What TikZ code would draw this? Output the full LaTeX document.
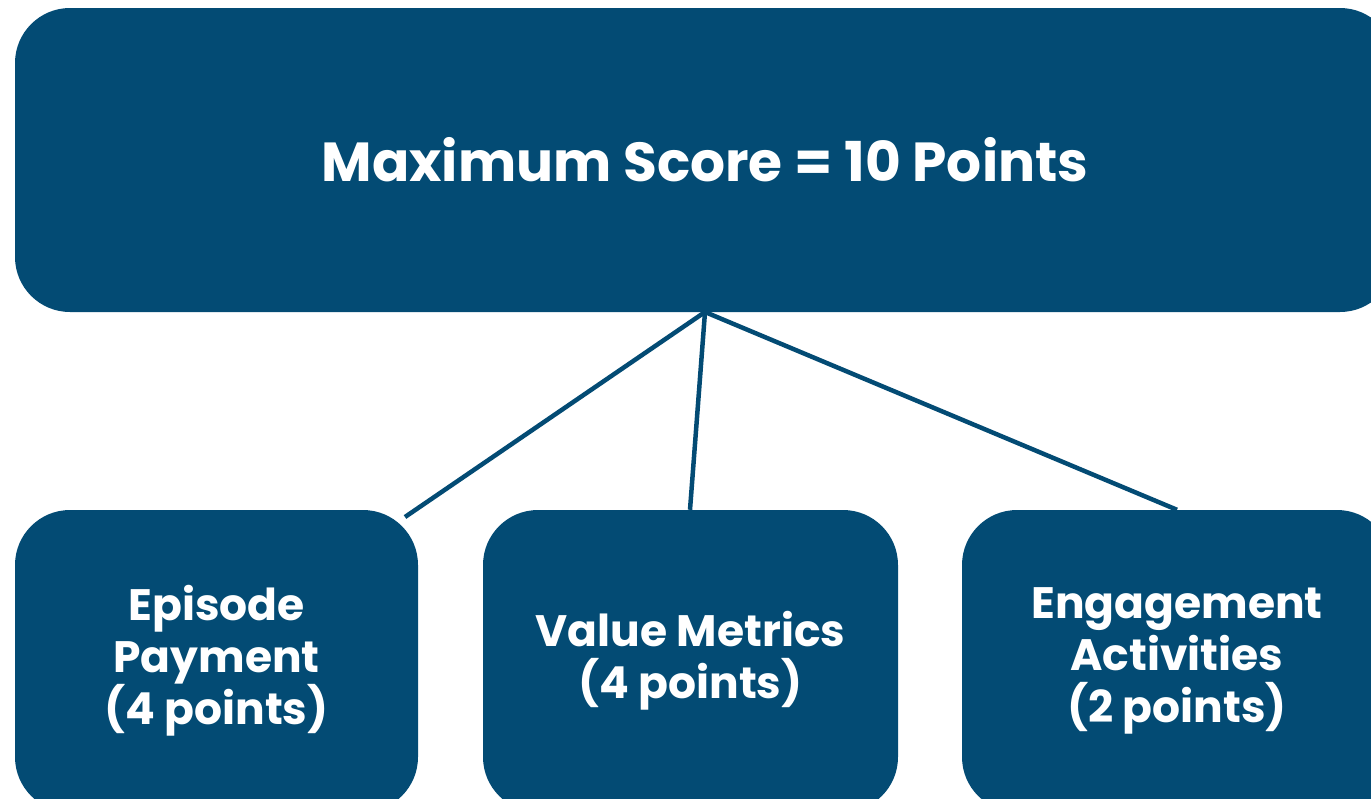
\documentclass[tikz,border=0pt]{standalone}
\usepackage{fontspec}
\setmainfont{Poppins}
\definecolor{navy}{HTML}{034B74}
\begin{document}
\begin{tikzpicture}[x=1pt,y=-1pt,
  box/.style={fill=navy,draw=none,rounded corners=55pt,inner sep=0pt,text=white,align=center,font=\fontsize{44}{52}\selectfont\bfseries},
  link/.style={draw=navy,line width=4.5pt}]
\useasboundingbox (0,0) rectangle (1371,798);
\clip (0,0) rectangle (1371,798);
\node[box,minimum width=1380pt,minimum height=304pt,font=\fontsize{55}{63}\selectfont\bfseries] (top) at (705,160) {Maximum Score = 10 Points};
\node[box,minimum width=403pt,minimum height=302pt] (ep) at (216.5,661) {Episode\\Payment\\(4 points)};
\node[box,minimum width=415pt,minimum height=302pt] (vm) at (690.5,661) {Value Metrics\\(4 points)};
\node[box,minimum width=430pt,minimum height=302pt] (ea) at (1177,661) {Engagement\\Activities\\(2 points)};
\coordinate (hub) at (705,312);
\coordinate (epend) at (405,517);
\draw[link] (hub) -- (epend);
\draw[link] (hub) -- (vm.north -| 690,0);
\draw[link] (hub) -- (ea.north);
\end{tikzpicture}
\end{document}
